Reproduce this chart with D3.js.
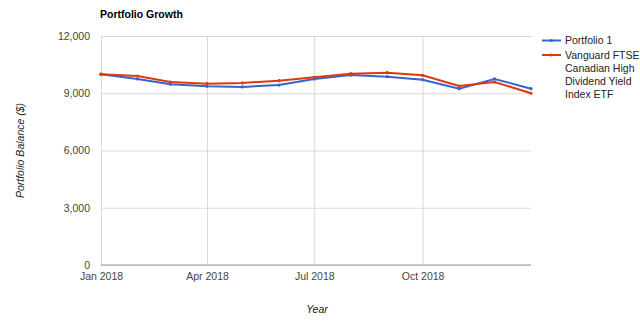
<!DOCTYPE html>
<html><head><meta charset="utf-8">
<script src="https://cdn.jsdelivr.net/npm/d3@7"></script>
<style>body{margin:0;background:#fff;}svg{display:block;font-family:"Liberation Sans",Arial,sans-serif;}</style>
</head><body>
<svg id="c" width="640" height="326"></svg>
<script>
const months = ["2018-01","2018-02","2018-03","2018-04","2018-05","2018-06","2018-07","2018-08","2018-09","2018-10","2018-11","2018-12","2019-01"];
const portfolio1 = [10000, 9750, 9470, 9365, 9330, 9430, 9750, 9955, 9870, 9710, 9240, 9750, 9240];
const vanguard   = [10000, 9905, 9590, 9500, 9540, 9660, 9835, 10025, 10080, 9940, 9380, 9590, 9000];
const seriesNames = ["Portfolio 1", "Vanguard FTSE Canadian High Dividend Yield Index ETF"];
const legendLines = [["Portfolio 1"], ["Vanguard FTSE", "Canadian High", "Dividend Yield", "Index ETF"]];
const yTicks = [0, 3000, 6000, 9000, 12000];
const xTickDates = ["2018-01","2018-04","2018-07","2018-10"];
const colors = ["#3366cc", "#dc3912"];

const parse = d3.timeParse("%Y-%m");
const dates = months.map(parse);
const svg = d3.select("#c");
const x = d3.scaleTime().domain([dates[0], dates[dates.length-1]]).range([101, 531]);
const y = d3.scaleLinear().domain([0, 12000]).range([265, 36]);
const fs = "10.5px";

// title
svg.append("text").attr("x", 100).attr("y", 17.5).attr("font-size", fs).attr("font-weight", "bold").attr("fill", "#000").text("Portfolio Growth");

// gridlines
const yAxis = d3.axisLeft(y).tickValues(yTicks).tickSize(-(531-101)).tickFormat(d3.format(",")).tickPadding(11);
const gy = svg.append("g").attr("transform", "translate(101,0)").call(yAxis);
gy.select(".domain").remove();
gy.selectAll(".tick line").attr("stroke", "#d9d9d9");
gy.selectAll(".tick text").attr("font-size", fs).attr("fill", "#444").attr("font-family", "Liberation Sans, Arial, sans-serif");

const xAxis = d3.axisBottom(x).tickValues(xTickDates.map(parse)).tickSize(-(265-36)).tickFormat(d3.timeFormat("%b %Y")).tickPadding(7.5);
const gx = svg.append("g").attr("transform", "translate(0,265)").call(xAxis);
gx.select(".domain").remove();
gx.selectAll(".tick line").attr("stroke", "#d9d9d9");
gx.selectAll(".tick text").attr("font-size", fs).attr("fill", "#444").attr("font-family", "Liberation Sans, Arial, sans-serif");

// baseline
svg.append("line").attr("x1", 101).attr("x2", 531).attr("y1", y(0)).attr("y2", y(0)).attr("stroke", "#999");

// axis titles
svg.append("text").attr("transform", "translate(24," + ((36+265)/2) + ") rotate(-90)").attr("text-anchor", "middle")
  .attr("font-size", fs).attr("font-style", "italic").attr("fill", "#222").text("Portfolio Balance ($)");
svg.append("text").attr("x", 317).attr("y", 313).attr("text-anchor", "middle")
  .attr("font-size", fs).attr("font-style", "italic").attr("fill", "#222").text("Year");

// lines
const line = d3.line().x((d, i) => x(dates[i])).y(d => y(d));
[portfolio1, vanguard].forEach((s, k) => {
  svg.append("path").datum(s).attr("d", line).attr("fill", "none").attr("stroke", colors[k]).attr("stroke-width", 2);
  svg.append("g").selectAll("circle").data(s).join("circle")
    .attr("cx", (d, i) => x(dates[i])).attr("cy", d => y(d)).attr("r", 1.6).attr("fill", colors[k]);
});

// legend
const ly = [40.5, 55];
legendLines.forEach((lines, k) => {
  svg.append("line").attr("x1", 542).attr("x2", 561).attr("y1", ly[k]).attr("y2", ly[k]).attr("stroke", colors[k]).attr("stroke-width", 2);
  svg.append("circle").attr("cx", 551.5).attr("cy", ly[k]).attr("r", 1.6).attr("fill", colors[k]);
  const t = svg.append("text").attr("font-size", fs).attr("fill", "#222");
  lines.forEach((ln, j) => {
    t.append("tspan").attr("x", 565).attr("y", ly[k] + 3.8 + j * 12.9).text(ln);
  });
});
</script>
</body></html>
